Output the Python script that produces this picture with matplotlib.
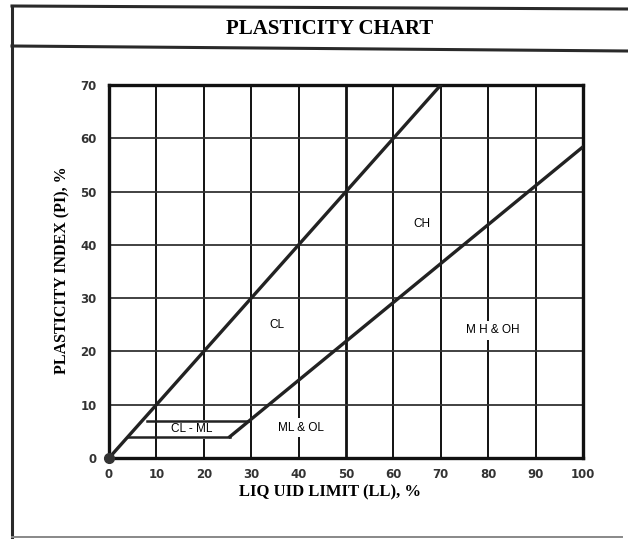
import numpy as np
import matplotlib
matplotlib.use("Agg")
import matplotlib.pyplot as plt
from matplotlib.lines import Line2D

# data
ll_ticks = [0, 10, 20, 30, 40, 50, 60, 70, 80, 90, 100]
pi_ticks = [0, 10, 20, 30, 40, 50, 60, 70]

u_line_ll = [0, 70]          # PI = LL boundary
u_line_pi = [0, 70]
a_line_ll = [25.5, 100]      # A-line
a_line_pi = [4, 58.4]
clml_top_ll = [8, 29.6]      # CL-ML zone, PI = 7
clml_top_pi = [7, 7]
clml_bot_ll = [4, 25.5]      # CL-ML zone, PI = 4
clml_bot_pi = [4, 4]

zone_names = ["CH", "CL", "M H & OH", "ML & OL", "CL - ML"]
zone_ll = [66, 35.5, 81, 40.5, 17.5]
zone_pi = [44, 25, 24, 5.7, 5.4]

fig = plt.figure(figsize=(6.28, 5.39), dpi=100)

# outer frame and title box (figure coords)
frame = dict(color="#2a2a2a", lw=2.2, transform=fig.transFigure)
fig.add_artist(Line2D([12/628, 12/628], [1-6/539, 1-537/539], **frame))
fig.add_artist(Line2D([12/628, 1.0], [1-6/539, 1-9/539], **frame))
fig.add_artist(Line2D([12/628, 1.0], [1-46/539, 1-51/539], **frame))
fig.add_artist(Line2D([12/628, 622/628], [1-537/539, 1-537/539], color="#888888", lw=1.4, transform=fig.transFigure))

fig.text(330/628, 1-29/539, "PLASTICITY CHART", ha="center", va="center",
         fontsize=15, fontweight="bold", family="Liberation Serif")

ax = fig.add_axes([109/628, 1-458/539, 474/628, 373/539])
ax.set_xlim(0, 100)
ax.set_ylim(0, 70)

for x in ll_ticks[1:-1]:
    ax.axvline(x, color="#111111", lw=2.0 if x == 50 else 1.4, zorder=1)
for y in pi_ticks[1:-1]:
    ax.axhline(y, color="#333333", lw=1.3, zorder=1)

for s in ax.spines.values():
    s.set_linewidth(2.4)
    s.set_color("#111111")

ax.plot(u_line_ll, u_line_pi, color="#222222", lw=2.4, zorder=3)
ax.plot(a_line_ll, a_line_pi, color="#222222", lw=2.4, zorder=3)
ax.plot(clml_top_ll, clml_top_pi, color="#222222", lw=1.8, zorder=3)
ax.plot(clml_bot_ll, clml_bot_pi, color="#222222", lw=1.8, zorder=3)
ax.plot([0], [0], "o", color="#333333", ms=7, zorder=4, clip_on=False)

for name, x, y in zip(zone_names, zone_ll, zone_pi):
    ax.text(x, y, name, ha="center", va="center", fontsize=8.5, family="Liberation Sans",
            bbox=dict(facecolor="white", edgecolor="none", pad=2.5), zorder=2)

ax.set_xticks(ll_ticks)
ax.set_yticks(pi_ticks)
ax.tick_params(axis="x", length=0, pad=7, labelsize=8.5)
ax.tick_params(axis="y", length=0, pad=9, labelsize=8.5)
for lab in ax.get_xticklabels() + ax.get_yticklabels():
    lab.set_fontweight("bold")
    lab.set_color("#333333")

fig.text(330/628, 1-492/539, "LIQ UID LIMIT (LL), %", ha="center", va="center",
         fontsize=12, fontweight="bold", family="Liberation Serif")
fig.text(62/628, 1-270/539, "PLASTICITY INDEX (PI), %", ha="center", va="center",
         rotation=90, fontsize=11.5, fontweight="bold", family="Liberation Serif")

fig.savefig("out.png", dpi=100, facecolor="white")
